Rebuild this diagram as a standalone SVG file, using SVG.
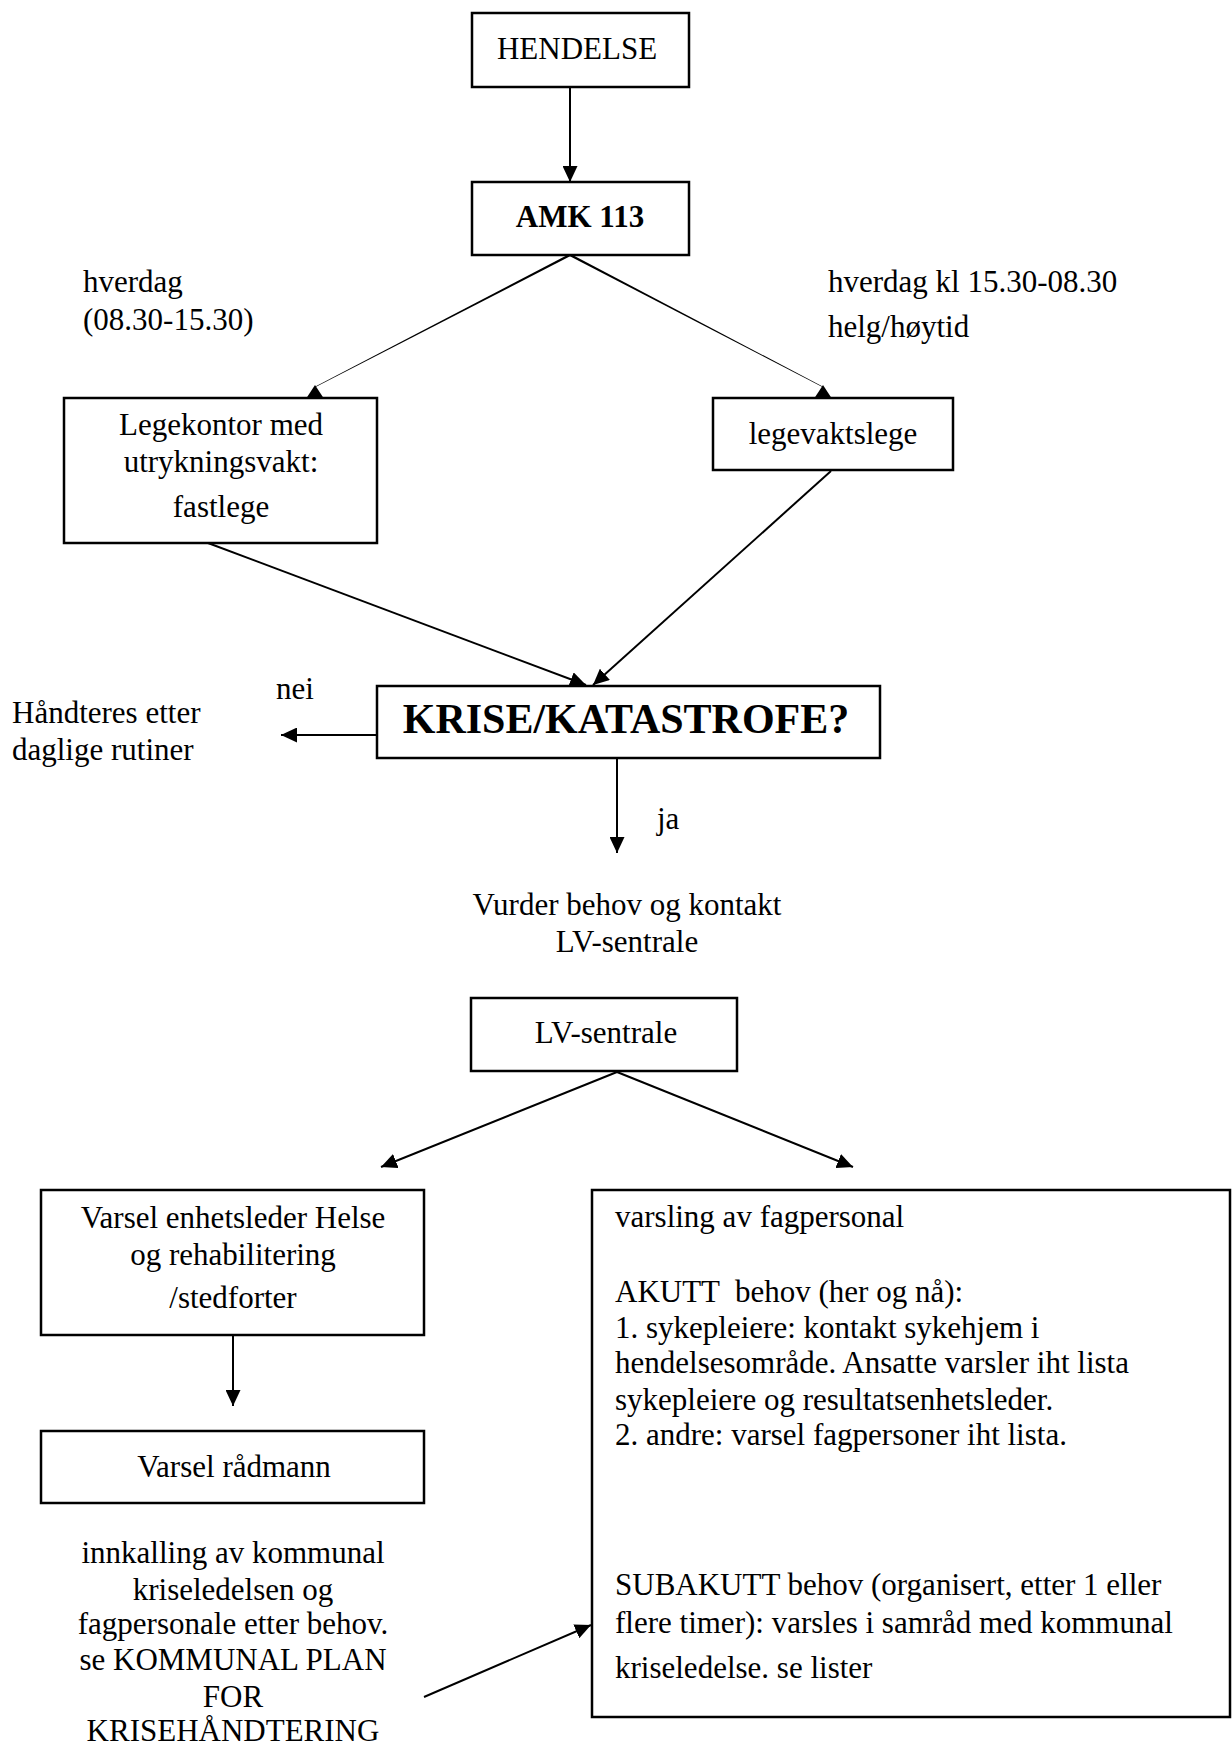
<svg xmlns="http://www.w3.org/2000/svg" width="1232" height="1749" viewBox="0 0 1232 1749">
<style>
  .box { fill: #ffffff; stroke: #000000; stroke-width: 2.5; }
  .t { font-family: "Liberation Serif", "Times New Roman", serif; font-size: 31px; fill: #000000; }
  .c { text-anchor: middle; }
  .b { font-weight: bold; }
  .big { font-size: 42px; }
  .ln { stroke: #000000; stroke-width: 2; fill: none; }
  .arr { marker-end: url(#ah); }
</style>
<defs>
  <marker id="ah" markerUnits="userSpaceOnUse" markerWidth="16" markerHeight="15" refX="16" refY="7.5" orient="auto">
    <path d="M0,0 L16,7.5 L0,15 Z" fill="#000000"/>
  </marker>
</defs>
<rect width="1232" height="1749" fill="#ffffff"/>

<g id="connectors">
  <line class="ln arr" x1="570" y1="87" x2="570" y2="182"/>
  <polygon points="570.55,256.07 569.45,253.93 314.86,386.73 315.14,387.27" fill="#000000"/>
  <polygon points="569.44,256.07 570.56,253.93 823.14,386.73 822.86,387.27" fill="#000000"/>
  <polygon points="315,385 306.5,398 323.5,398" fill="#000000"/>
  <polygon points="823,385 814.5,398 831.5,398" fill="#000000"/>
  <line class="ln arr" x1="208" y1="543" x2="586" y2="685"/>
  <line class="ln arr" x1="831" y1="471" x2="593" y2="685"/>
  <line class="ln arr" x1="377" y1="735" x2="281" y2="735"/>
  <line class="ln arr" x1="617" y1="758" x2="617" y2="853"/>
  <line class="ln arr" x1="617" y1="1072" x2="381" y2="1167"/>
  <line class="ln arr" x1="617" y1="1072" x2="853" y2="1167"/>
  <line class="ln arr" x1="233" y1="1335" x2="233" y2="1406"/>
  <line class="ln arr" x1="424" y1="1697" x2="591" y2="1625"/>
</g>

<g id="hendelse">
  <rect class="box" x="472" y="13" width="217" height="74"/>
  <text class="t c" x="577" y="59">HENDELSE</text>
</g>

<g id="amk">
  <rect class="box" x="472" y="182" width="217" height="73"/>
  <text class="t c b" x="580" y="227">AMK 113</text>
</g>

<g id="label-hverdag">
  <text class="t" x="83" y="292">hverdag</text>
  <text class="t" x="83" y="330">(08.30-15.30)</text>
</g>

<g id="label-kveld">
  <text class="t" x="828" y="292">hverdag kl 15.30-08.30</text>
  <text class="t" x="828" y="337">helg/høytid</text>
</g>

<g id="legekontor">
  <rect class="box" x="64" y="398" width="313" height="145"/>
  <text class="t c" x="221" y="435">Legekontor med</text>
  <text class="t c" x="221" y="472">utrykningsvakt:</text>
  <text class="t c" x="221" y="517">fastlege</text>
</g>

<g id="legevakt">
  <rect class="box" x="713" y="398" width="240" height="72"/>
  <text class="t c" x="833" y="444">legevaktslege</text>
</g>

<g id="krise">
  <rect class="box" x="377" y="686" width="503" height="72"/>
  <text class="t c b big" x="626" y="733">KRISE/KATASTROFE?</text>
</g>

<g id="label-nei">
  <text class="t" x="276" y="699">nei</text>
</g>

<g id="daglige">
  <text class="t" x="12" y="723">Håndteres etter</text>
  <text class="t" x="12" y="760">daglige rutiner</text>
</g>

<g id="label-ja">
  <text class="t" x="657" y="829">ja</text>
</g>

<g id="vurder">
  <text class="t c" x="627" y="915">Vurder behov og kontakt</text>
  <text class="t c" x="627" y="952">LV-sentrale</text>
</g>

<g id="lv-sentrale">
  <rect class="box" x="471" y="998" width="266" height="73"/>
  <text class="t c" x="606" y="1043">LV-sentrale</text>
</g>

<g id="enhetsleder">
  <rect class="box" x="41" y="1190" width="383" height="145"/>
  <text class="t c" x="233" y="1228">Varsel enhetsleder Helse</text>
  <text class="t c" x="233" y="1265">og rehabilitering</text>
  <text class="t c" x="233" y="1308">/stedforter</text>
</g>

<g id="radmann">
  <rect class="box" x="41" y="1431" width="383" height="72"/>
  <text class="t c" x="234" y="1477">Varsel rådmann</text>
</g>

<g id="innkalling">
  <text class="t c" x="233" y="1563">innkalling av kommunal</text>
  <text class="t c" x="233" y="1600">kriseledelsen og</text>
  <text class="t c" x="233" y="1634">fagpersonale etter behov.</text>
  <text class="t c" x="233" y="1670">se KOMMUNAL PLAN</text>
  <text class="t c" x="233" y="1707">FOR</text>
  <text class="t c" x="233" y="1741">KRISEHÅNDTERING</text>
</g>

<g id="fagpersonal">
  <rect class="box" x="592" y="1190" width="638" height="527"/>
  <text class="t" x="615" y="1227">varsling av fagpersonal</text>
  <text class="t" x="615" y="1302" xml:space="preserve">AKUTT  behov (her og nå):</text>
  <text class="t" x="615" y="1338">1. sykepleiere: kontakt sykehjem i</text>
  <text class="t" x="615" y="1373">hendelsesområde. Ansatte varsler iht lista</text>
  <text class="t" x="615" y="1410">sykepleiere og resultatsenhetsleder.</text>
  <text class="t" x="615" y="1445">2. andre: varsel fagpersoner iht lista.</text>
  <text class="t" x="615" y="1595">SUBAKUTT behov (organisert, etter 1 eller</text>
  <text class="t" x="615" y="1633">flere timer): varsles i samråd med kommunal</text>
  <text class="t" x="615" y="1678">kriseledelse. se lister</text>
</g>
</svg>
